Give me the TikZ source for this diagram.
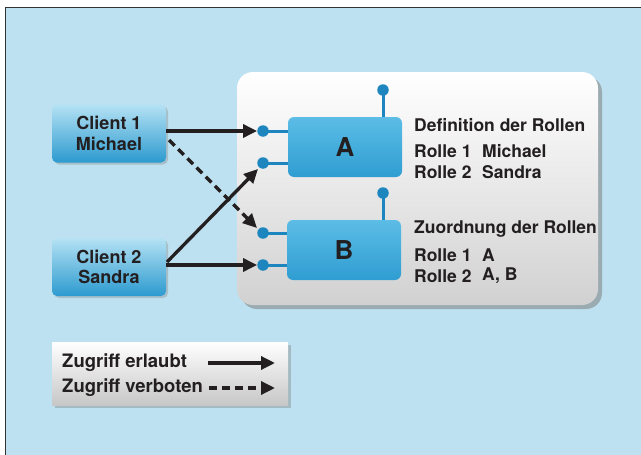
\documentclass[tikz,border=0pt]{standalone}
\usepackage{fontspec}
\setmainfont{TeX Gyre Heros}
\usetikzlibrary{shadows,arrows.meta,calc}
\definecolor{bgblue}{HTML}{BDE1F0}
\definecolor{pinblue}{HTML}{1E86BE}
\definecolor{boxtop}{HTML}{5CBDE6}
\definecolor{boxbot}{HTML}{2F9DD2}
\definecolor{cltop}{HTML}{B5E2F4}
\definecolor{clbot}{HTML}{2C9ACF}
\definecolor{txt}{HTML}{231F20}
\tikzset{
  client/.style={rounded corners=5pt, top color=cltop, bottom color=clbot, draw=none,
    drop shadow={opacity=0.35, shadow xshift=2pt, shadow yshift=-2pt},
    minimum width=114pt, minimum height=58pt, align=center,
    font=\fontsize{18}{20.5}\selectfont\bfseries, text=txt, inner sep=0pt},
  rolebox/.style={rounded corners=6pt, top color=boxtop, bottom color=boxbot, draw=none,
    minimum width=114pt, minimum height=60pt, font=\fontsize{26}{28}\selectfont\bfseries, text=txt, inner sep=0pt},
  pinline/.style={pinblue, line width=3pt},
  pinhead/.style={circle, fill=pinblue, inner sep=0pt, minimum size=11.5pt},
  lbl/.style={anchor=west, font=\fontsize{17.5}{19}\selectfont\bfseries, text=txt, inner sep=0pt},
  lgd/.style={anchor=west, font=\fontsize{18.5}{19}\selectfont\bfseries, text=txt, inner sep=0pt},
  acc/.style={-{Triangle[length=14pt,width=13pt]}, line width=3.3pt, txt},
  den/.style={-{Triangle[length=14pt,width=13pt]}, line width=3.3pt, txt, dash pattern=on 8pt off 5pt},
}
\begin{document}
\begin{tikzpicture}[x=1pt,y=-1pt]
\useasboundingbox (0,0) rectangle (641,455);
\fill[white] (0,0) rectangle (641,455);
\fill[bgblue] (5,7) rectangle (641,455);
\draw[black!80, line width=1pt] (5,455) -- (5,7) -- (641,7);

% main panel
\node[draw=none, rounded corners=16pt, top color=white, bottom color=black!18,
  drop shadow={opacity=0.55, shadow xshift=4pt, shadow yshift=-4pt},
  minimum width=361pt, minimum height=233pt, inner sep=0pt] (panel) at (417.5,188.5) {};

% legend
\node[draw=none, top color=white, bottom color=black!22,
  drop shadow={opacity=0.4, shadow xshift=3pt, shadow yshift=-3pt},
  minimum width=236pt, minimum height=63pt, inner sep=0pt] (legend) at (170,373.5) {};

% clients
\node[client] (c1) at (109,133.5) {Client 1\\Michael};
\node[client] (c2) at (109,267) {Client 2\\Sandra};

% pins
\node[pinhead] (pa1) at (263,131) {};
\node[pinhead] (pa2) at (263,163) {};
\node[pinhead] (pat) at (383,90) {};
\node[pinhead] (pb1) at (263,233) {};
\node[pinhead] (pb2) at (263,265) {};
\node[pinhead] (pbt) at (383,193) {};
\draw[pinline] (pa1.center) -- (300,131);
\draw[pinline] (pa2.center) -- (300,163);
\draw[pinline] (pat.center) -- (383,125);
\draw[pinline] (pb1.center) -- (300,233);
\draw[pinline] (pb2.center) -- (300,265);
\draw[pinline] (pbt.center) -- (383,228);

% role boxes
\node[rolebox] (A) at (345,147) {A};
\node[rolebox] (B) at (344,250) {B};

% texts
\node[lbl] (t1) at (414,125) {Definition der Rollen};
\node[lbl] (t2) at (414,151) {Rolle 1};
\node[lbl] (t3) at (482,151) {Michael};
\node[lbl] (t4) at (414,172) {Rolle 2};
\node[lbl] (t5) at (482,172) {Sandra};
\node[lbl] (t6) at (414,229) {Zuordnung der Rollen};
\node[lbl] (t7) at (414,255) {Rolle 1};
\node[lbl] (t8) at (482,255) {A};
\node[lbl] (t9) at (414,276) {Rolle 2};
\node[lbl] (t10) at (482,276) {A, B};

% connectors
\coordinate (c1a) at (166,131);
\coordinate (c1d) at (169,140);
\coordinate (c2a) at (167,262);
\coordinate (c2b) at (166,265);
\draw[acc] (c1a) -- (pa1.west);
\draw[den] (c1d) -- ($(pb1.center)+(-6,-5)$);
\draw[acc] (c2a) -- ($(pa2.center)+(-5,6)$);
\draw[acc] (c2b) -- (pb2.west);

% legend content
\node[lgd] (l1) at (62,363) {Zugriff erlaubt};
\node[lgd] (l2) at (62,388) {Zugriff verboten};
\coordinate (la1) at (208,363);
\coordinate (la2) at (275,363);
\coordinate (lb1) at (209,388);
\coordinate (lb2) at (275,388);
\draw[acc] (la1) -- (la2);
\draw[den] (lb1) -- (lb2);
\end{tikzpicture}
\end{document}
